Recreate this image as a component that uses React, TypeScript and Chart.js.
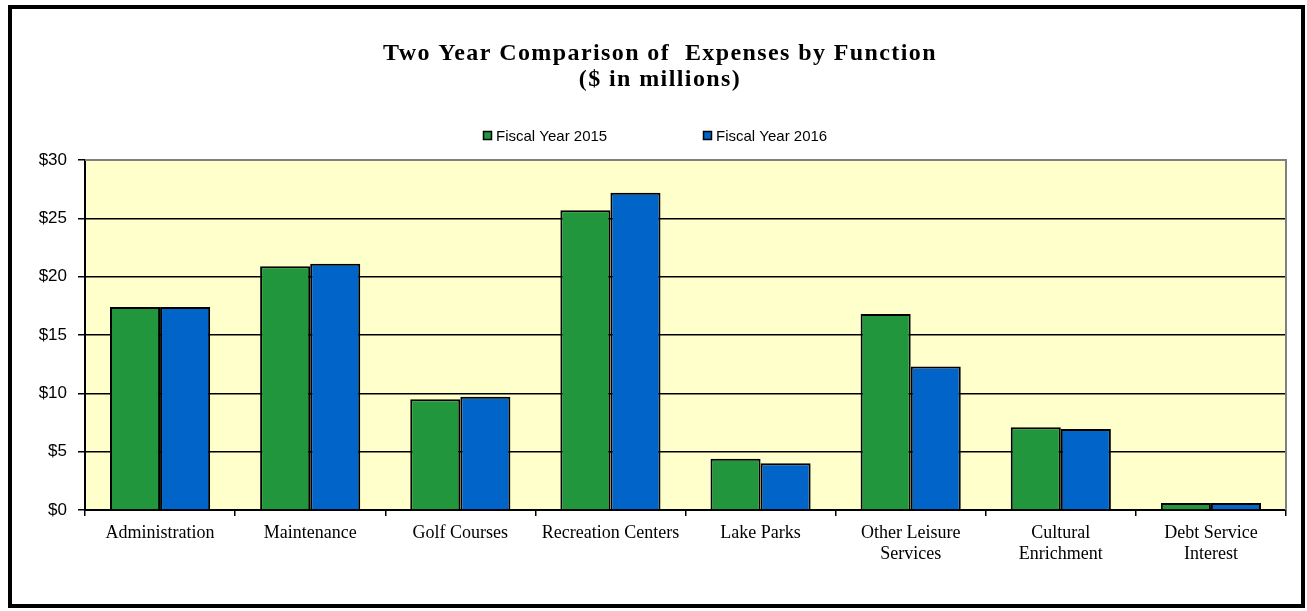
import React, { useEffect, useRef } from "react";
import { Chart, registerables } from "chart.js";

Chart.register(...registerables);

const categories: (string | string[])[] = [
  "Administration",
  "Maintenance",
  "Golf Courses",
  "Recreation Centers",
  "Lake Parks",
  ["Other Leisure", "Services"],
  ["Cultural", "Enrichment"],
  ["Debt Service", "Interest"],
];
const fy2015 = [17.4, 20.9, 9.5, 25.7, 4.4, 16.8, 7.1, 0.6];
const fy2016 = [17.4, 21.1, 9.7, 27.2, 4.0, 12.3, 6.95, 0.6];
const seriesNames = ["Fiscal Year 2015", "Fiscal Year 2016"];
const titleLines = ["Two Year Comparison of  Expenses by Function", "($ in millions)"];
const yTicks = [0, 5, 10, 15, 20, 25, 30];

const GREEN = "#22963C";
const BLUE = "#0064C8";

const plotDecor = {
  id: "plotDecor",
  beforeDraw(chart: any) {
    const { ctx, chartArea: a } = chart;
    ctx.save();
    ctx.fillStyle = "#FFFFCC";
    ctx.fillRect(a.left, a.top, a.right - a.left, a.bottom - a.top);
    ctx.restore();
  },
  afterDatasetsDraw(chart: any) {
    const { ctx, chartArea: a } = chart;
    ctx.save();
    ctx.strokeStyle = "#808080";
    ctx.lineWidth = 2;
    ctx.beginPath();
    ctx.moveTo(a.left, a.top);
    ctx.lineTo(a.right, a.top);
    ctx.lineTo(a.right, a.bottom);
    ctx.stroke();
    ctx.restore();
  },
  afterDraw(chart: any) {
    const { ctx } = chart;
    ctx.save();
    // title
    ctx.fillStyle = "#000";
    ctx.textAlign = "center";
    ctx.textBaseline = "middle";
    ctx.font = "bold 24px 'Liberation Serif', 'Times New Roman', serif";
    (ctx as any).letterSpacing = "1.4px";
    titleLines.forEach((t, i) => ctx.fillText(t, 648, 45 + i * 26));
    (ctx as any).letterSpacing = "0px";
    // legend
    const xs = [471, 691];
    ctx.textAlign = "left";
    ctx.font = "15px 'Liberation Sans', Arial, sans-serif";
    chart.data.datasets.forEach((ds: any, i: number) => {
      ctx.fillStyle = ds.backgroundColor;
      ctx.fillRect(xs[i], 122, 9, 9);
      ctx.strokeStyle = "#000";
      ctx.lineWidth = 1.5;
      ctx.strokeRect(xs[i] + 0.5, 122.5, 8, 8);
      ctx.fillStyle = "#000";
      ctx.fillText(ds.label, xs[i] + 13, 127.5);
    });
    ctx.restore();
  },
};

export default function App() {
  const ref = useRef<HTMLCanvasElement>(null);
  useEffect(() => {
    if (!ref.current) return;
    const chart = new Chart(ref.current, {
      type: "bar",
      data: {
        labels: categories,
        datasets: [
          {
            label: seriesNames[0],
            data: fy2015,
            backgroundColor: GREEN,
            borderColor: "#000",
            borderWidth: 2,
          },
          {
            label: seriesNames[1],
            data: fy2016,
            backgroundColor: BLUE,
            borderColor: "#000",
            borderWidth: 2,
          },
        ],
      },
      options: {
        animation: false,
        responsive: false,
        maintainAspectRatio: false,
        layout: { padding: { left: 0, right: 15, top: 151, bottom: 0 } },
        datasets: { bar: { categoryPercentage: 0.667, barPercentage: 1.0 } },
        plugins: {
          legend: { display: false },
          tooltip: { enabled: false },
          title: { display: false },
        },
        scales: {
          x: {
            afterFit(s: any) {
              s.height = 94;
            },
            grid: {
              display: true,
              drawOnChartArea: false,
              offset: true,
              color: "#000",
              lineWidth: 1.5,
              tickLength: 6,
            },
            border: { color: "#000", width: 2 },
            ticks: {
              color: "#000",
              padding: 6,
              maxRotation: 0,
              autoSkip: false,
              font: { family: "'Liberation Serif', 'Times New Roman', serif", size: 18, lineHeight: 1.2 },
            },
          },
          y: {
            min: 0,
            max: 30,
            afterFit(s: any) {
              s.width = 73;
            },
            afterBuildTicks(s: any) {
              s.ticks = yTicks.map((v) => ({ value: v }));
            },
            grid: { color: "#000", lineWidth: 1.5, tickLength: 7 },
            border: { color: "#000", width: 2 },
            ticks: {
              color: "#000",
              padding: 11,
              font: { family: "'Liberation Sans', Arial, sans-serif", size: 17 },
              callback: (v: any) => "$" + v,
            },
          },
        },
      },
      plugins: [plotDecor],
    });
    return () => chart.destroy();
  }, []);

  return (
    <div
      style={{
        position: "absolute",
        left: 8,
        top: 5,
        width: 1297,
        height: 603,
        border: "4px solid #000",
        boxSizing: "border-box",
        background: "#fff",
      }}
    >
      <canvas ref={ref} width={1289} height={595} style={{ display: "block" }} />
    </div>
  );
}
